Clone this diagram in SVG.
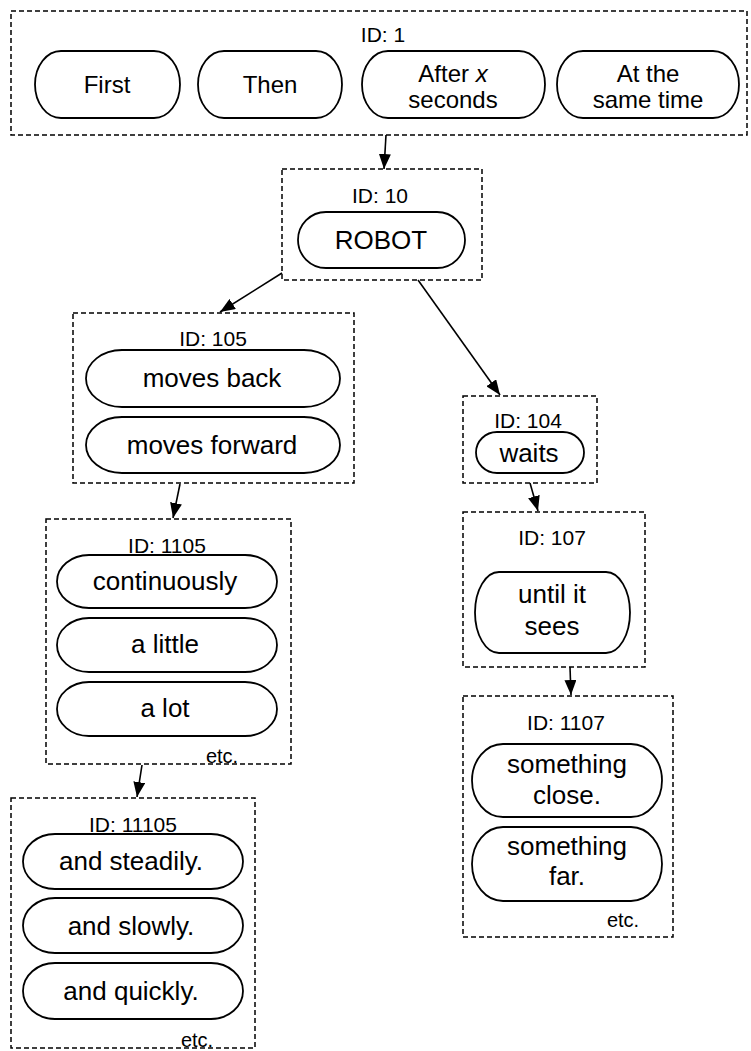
<svg xmlns="http://www.w3.org/2000/svg" width="751" height="1051" viewBox="0 0 751 1051">
<style>
.box{fill:none;stroke:#000;stroke-width:1.5;stroke-dasharray:5,3}
.pill{fill:#fff;stroke:#000;stroke-width:1.8}
text{font-family:"Liberation Sans",Arial,sans-serif;fill:#000;text-anchor:middle}
.id{font-size:21px}
.t{font-size:26px}
.tt{font-size:24px}
.etc{font-size:20px}
.conn{stroke:#000;stroke-width:1.6;fill:none}
</style>
<defs>
<marker id="arr" markerUnits="userSpaceOnUse" markerWidth="16" markerHeight="12" refX="15" refY="6" orient="auto">
<path d="M0,0 L15,6 L0,12 z" fill="#000"/>
</marker>
</defs>
<rect width="751" height="1051" fill="#fff"/>
<g id="connectors">
<line class="conn" x1="386" y1="135" x2="384" y2="169" marker-end="url(#arr)"/>
<line class="conn" x1="282" y1="273" x2="220" y2="312" marker-end="url(#arr)"/>
<line class="conn" x1="418" y1="280" x2="500" y2="395" marker-end="url(#arr)"/>
<line class="conn" x1="180" y1="484" x2="173" y2="518" marker-end="url(#arr)"/>
<line class="conn" x1="142" y1="765" x2="137" y2="797" marker-end="url(#arr)"/>
<line class="conn" x1="530" y1="483" x2="538" y2="511" marker-end="url(#arr)"/>
<line class="conn" x1="570" y1="667" x2="571" y2="695" marker-end="url(#arr)"/>
</g>
<g id="node-1">
<rect class="box" x="11" y="11" width="736" height="124"/>
<text class="id" x="383" y="42">ID: 1</text>
<rect class="pill" x="35" y="51" width="145" height="67" rx="26" ry="33.5"/>
<text class="tt" x="107" y="93">First</text>
<rect class="pill" x="198" y="51" width="144" height="67" rx="26" ry="33.5"/>
<text class="tt" x="270" y="93">Then</text>
<rect class="pill" x="362" y="51" width="183" height="67" rx="26" ry="33.5"/>
<text class="tt" x="453" y="82">After <tspan font-style="italic">x</tspan></text>
<text class="tt" x="453" y="108">seconds</text>
<rect class="pill" x="557" y="51" width="182" height="67" rx="26" ry="33.5"/>
<text class="tt" x="648" y="82">At the</text>
<text class="tt" x="648" y="108">same time</text>
</g>
<g id="node-10">
<rect class="box" x="282" y="169" width="200" height="111"/>
<text class="id" x="380" y="203">ID: 10</text>
<rect class="pill" x="298" y="212" width="167" height="56" rx="28" ry="28"/>
<text class="t" x="381" y="249">ROBOT</text>
</g>
<g id="node-105">
<rect class="box" x="73" y="313" width="281" height="170"/>
<text class="id" x="213" y="346">ID: 105</text>
<rect class="pill" x="86" y="350" width="254" height="57" rx="36" ry="28.5"/>
<text class="t" x="212" y="387">moves back</text>
<rect class="pill" x="86" y="417" width="254" height="56" rx="36" ry="28"/>
<text class="t" x="212" y="454">moves forward</text>
</g>
<g id="node-104">
<rect class="box" x="463" y="396" width="134" height="87"/>
<text class="id" x="528" y="428">ID: 104</text>
<rect class="pill" x="476" y="432" width="108" height="41" rx="21" ry="20.5"/>
<text class="t" x="529" y="462">waits</text>
</g>
<g id="node-107">
<rect class="box" x="463" y="512" width="182" height="155"/>
<text class="id" x="552" y="545">ID: 107</text>
<rect class="pill" x="475" y="572" width="155" height="81" rx="24" ry="40.5"/>
<text class="t" x="552" y="603">until it</text>
<text class="t" x="552" y="635">sees</text>
</g>
<g id="node-1105">
<rect class="box" x="46" y="519" width="245" height="245"/>
<text class="id" x="167" y="553">ID: 1105</text>
<rect class="pill" x="57" y="555" width="220" height="53" rx="32" ry="26.5"/>
<text class="t" x="165" y="590">continuously</text>
<rect class="pill" x="57" y="618" width="220" height="54" rx="32" ry="27"/>
<text class="t" x="165" y="653">a little</text>
<rect class="pill" x="57" y="682" width="220" height="54" rx="32" ry="27"/>
<text class="t" x="165" y="717">a lot</text>
<text class="etc" x="222" y="763">etc.</text>
</g>
<g id="node-1107">
<rect class="box" x="463" y="696" width="210" height="241"/>
<text class="id" x="566" y="730">ID: 1107</text>
<rect class="pill" x="472" y="744" width="190" height="73" rx="31" ry="36.5"/>
<text class="t" x="567" y="773">something</text>
<text class="t" x="567" y="804">close.</text>
<rect class="pill" x="472" y="827" width="190" height="74" rx="31" ry="37"/>
<text class="t" x="567" y="855">something</text>
<text class="t" x="567" y="885">far.</text>
<text class="etc" x="623" y="927">etc.</text>
</g>
<g id="node-11105">
<rect class="box" x="11" y="798" width="244" height="250"/>
<text class="id" x="133" y="832">ID: 11105</text>
<rect class="pill" x="23" y="834" width="220" height="55" rx="32" ry="27.5"/>
<text class="t" x="131" y="870">and steadily.</text>
<rect class="pill" x="23" y="898" width="220" height="55" rx="32" ry="27.5"/>
<text class="t" x="131" y="935">and slowly.</text>
<rect class="pill" x="23" y="963" width="220" height="56" rx="32" ry="28"/>
<text class="t" x="131" y="1000">and quickly.</text>
<text class="etc" x="197" y="1047">etc.</text>
</g>
</svg>
